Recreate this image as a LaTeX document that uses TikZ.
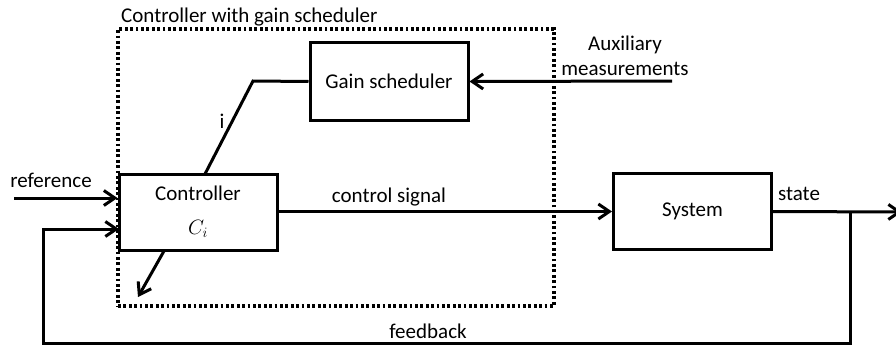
\documentclass[tikz,border=0pt]{standalone}
\usepackage{fontspec}
\setmainfont{Carlito}
\usetikzlibrary{arrows.meta}

\begin{document}
\begin{tikzpicture}[x=1pt, y=-1pt,
		block/.style = {draw, line width=3pt, minimum width=158pt, minimum height=76pt, inner sep=0pt, align=center},
		sig/.style = {line width=3pt, -{Straight Barb[length=11pt, width=15pt, line width=3pt]}},
		wire/.style = {line width=3pt},
		frame/.style = {draw, line width=3.2pt, dash pattern=on 2.8pt off 2.6pt, minimum width=436pt, minimum height=277pt},
		lbl/.style = {inner sep=0pt, align=center},
		font=\fontsize{21}{25}\selectfont] 
		\useasboundingbox (0,0) rectangle (896,345);
		%Lohkot
		\node[frame] (cgs) at (336,167.5) {};
		\node[lbl, anchor=west] (cgstitle) at (121,17) {Controller with gain scheduler};
		\node[block] (ctrl) at (198,212) {Controller\\[9pt]$C_i$};
		\node[block, minimum height=77pt] (gs) at (389,81.5) {Gain scheduler};
		\node[block] (sys) at (692.5,211.5) {System};
		% Pisteet
		\coordinate (refin) at (14,198);
		\coordinate (fbin) at (119,229);
		\coordinate (fbcorner) at (43,343);
		\coordinate (branch) at (850,212);
		\coordinate (stateout) at (902,212);
		\coordinate (auxin) at (672,81);
		\coordinate (ibend) at (253,81);
		\coordinate (iend) at (205,174);
		\coordinate (gainout) at (164,251);
		\coordinate (gaintip) at (138,297);
		% Tekstit
		\node[lbl] (reflbl) at (51,180) {reference};
		\node[lbl] (fblbl) at (428,331) {feedback};
		\node[lbl] (cslbl) at (389,197) {control signal};
		\node[lbl] (statelbl) at (799,194) {state};
		\node[lbl] (auxlbl) at (625,56) {Auxiliary\\measurements};
		\node[lbl] (ilbl) at (222,121) {i};
		% Janat
		\draw [sig] (refin) -- (refin -| ctrl.west);			% reference
		\draw [sig] (branch) |- (fbcorner) |- (fbin);			% feedback
		\draw [sig] (ctrl.east |- sys.west) -- (sys.west);		% control signal
		\draw [sig] (sys.east) -- (stateout);				% state
		\draw [sig] (auxin) -- (gs.east);				% auxiliary
		\draw [wire] (gs.west) -- (ibend) -- (iend);			% i
		\draw [sig] (gainout) -- (gaintip);				% gain out
\end{tikzpicture}
\end{document}
